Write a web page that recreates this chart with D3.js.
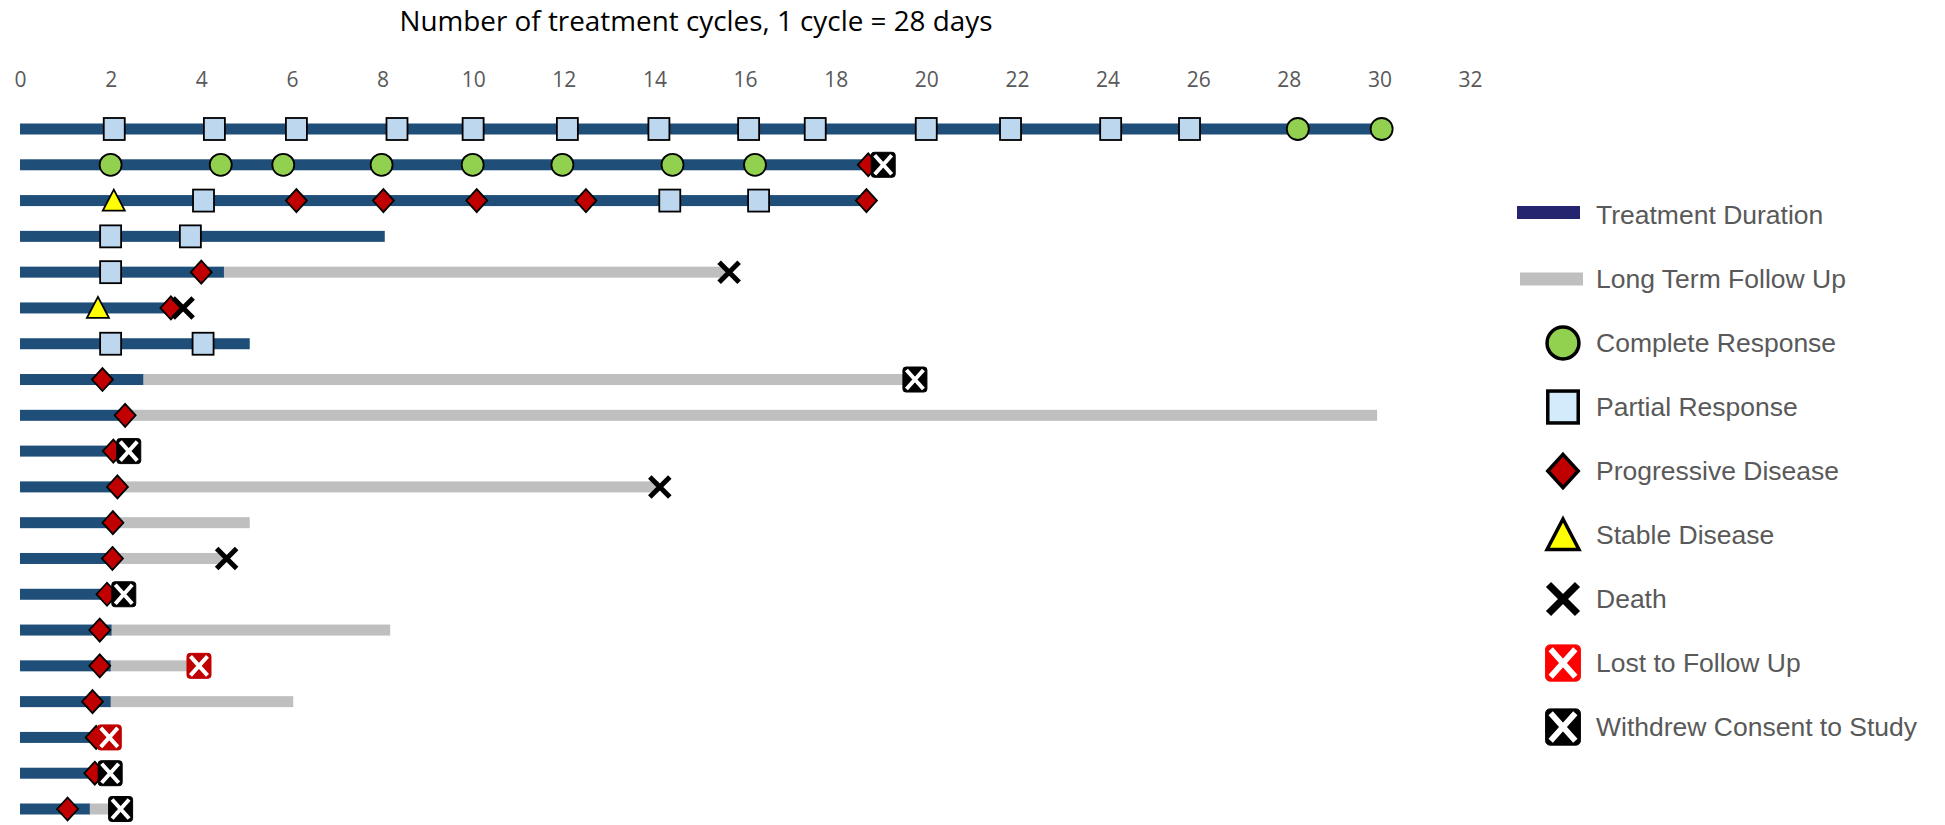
<!DOCTYPE html>
<html>
<head>
<meta charset="utf-8">
<script src="https://cdn.jsdelivr.net/npm/d3@7"></script>
<style>
	body { margin: 0; background: #fff; }
	svg { display: block; }
</style>
</head>
<body>
<div id="swimmer"></div>
<script>
// patients, top to bottom
var patients = [1, 2, 3, 4, 5, 6, 7, 8, 9, 10, 11, 12, 13, 14, 15, 16, 17, 18, 19, 20];

// cycles on treatment / end of long term follow up (null = none)
var treatmentEnd = [30.05, 18.8, 18.6, 8.05, 4.5, 3.4, 5.07, 2.72, 2.3, 2.1, 2.2, 2.1, 2.1, 2.0, 2.02, 2.0, 2.0, 1.75, 1.75, 1.54];
var followUpEnd = [null, null, null, null, 15.6, null, null, 19.75, 29.95, null, 14.1, 5.07, 4.5, null, 8.17, 3.7, 6.03, null, null, 1.95];

// events as [patient, cycle]
var completeResponse = [
	[1, 28.2], [1, 30.05],
	[2, 2.0], [2, 4.43], [2, 5.81], [2, 7.98], [2, 9.99], [2, 11.97], [2, 14.4], [2, 16.22]
];
var partialResponse = [
	[1, 2.08], [1, 4.29], [1, 6.1], [1, 8.32], [1, 10.0], [1, 12.08], [1, 14.1], [1, 16.08], [1, 17.55],
	[1, 20.0], [1, 21.86], [1, 24.07], [1, 25.81],
	[3, 4.05], [3, 14.34], [3, 16.3],
	[4, 2.0], [4, 3.76],
	[5, 2.0],
	[7, 2.0], [7, 4.04]
];
var progressiveDisease = [
	[2, 18.72],
	[3, 6.1], [3, 8.02], [3, 10.08], [3, 12.49], [3, 18.68],
	[5, 4.0], [6, 3.33], [8, 1.82], [9, 2.32], [10, 2.06], [11, 2.15], [12, 2.05], [13, 2.04],
	[14, 1.92], [15, 1.76], [16, 1.76], [17, 1.6], [18, 1.68], [19, 1.65], [20, 1.05]
];
var stableDisease = [[3, 2.07], [6, 1.72]];
var death = [[5, 15.65], [6, 3.6], [11, 14.12], [13, 4.56]];
var lostToFollowUp = [[16, 3.95], [18, 1.97]];
var withdrewConsent = [[2, 19.05], [8, 19.75], [10, 2.4], [14, 2.29], [19, 1.99], [20, 2.22]];

var xTicks = [0, 2, 4, 6, 8, 10, 12, 14, 16, 18, 20, 22, 24, 26, 28, 30, 32];
var legendLabels = ["Treatment Duration", "Long Term Follow Up", "Complete Response", "Partial Response",
	"Progressive Disease", "Stable Disease", "Death", "Lost to Follow Up", "Withdrew Consent to Study"];

var width = 1945, height = 825;
var narrow = "'Liberation Sans Narrow', 'Arial Narrow', 'Open Sans', sans-serif";

var svg = d3.select("#swimmer").append("svg")
	.attr("width", width)
	.attr("height", height);

var x = d3.scaleLinear().domain([0, 32]).range([20, 1470]);
var y = d3.scalePoint().domain(patients).range([129, 809]);

svg.append("text")
	.attr("x", 696)
	.attr("y", 21)
	.attr("dy", "0.35em")
	.attr("text-anchor", "middle")
	.attr("font-family", narrow)
	.attr("font-size", 28)
	.attr("fill", "#000")
	.attr("textLength", 593)
	.attr("lengthAdjust", "spacingAndGlyphs")
	.text("Number of treatment cycles, 1 cycle = 28 days");

var axis = svg.append("g")
	.attr("transform", "translate(0, 80)")
	.call(d3.axisTop(x).tickValues(xTicks).tickSize(0).tickPadding(0));
axis.select(".domain").remove();
axis.selectAll("text")
	.attr("y", 0)
	.attr("dy", "0.35em")
	.attr("font-family", narrow)
	.attr("font-size", 21)
	.attr("fill", "#595959");

var barH = 11;

// follow up first so treatment sits on top
svg.selectAll(".followup").data(patients.filter(function(p, i) { return followUpEnd[i] !== null; })).enter().append("rect")
	.attr("class", "followup")
	.attr("fill", "#BFBFBF")
	.attr("x", function(p) { return x(treatmentEnd[p - 1]) - 1; })
	.attr("y", function(p) { return y(p) - barH / 2; })
	.attr("width", function(p) { return x(followUpEnd[p - 1]) - x(treatmentEnd[p - 1]) + 1; })
	.attr("height", barH);

svg.selectAll(".treatment").data(patients).enter().append("rect")
	.attr("class", "treatment")
	.attr("fill", "#1F4E79")
	.attr("x", x(0))
	.attr("y", function(p) { return y(p) - barH / 2; })
	.attr("width", function(p, i) { return x(treatmentEnd[i]) - x(0); })
	.attr("height", barH);

// k = size factor, s = stroke width
function addMarker(g, type, k, s, color) {
	if (type === "complete") {
		g.append("circle").attr("r", 11 * k)
			.attr("fill", "#92D050").attr("stroke", "#000").attr("stroke-width", s);
	} else if (type === "partial") {
		g.append("rect").attr("x", -10.5 * k).attr("y", -11 * k).attr("width", 21 * k).attr("height", 22 * k)
			.attr("fill", color || "#BDD7EE").attr("stroke", "#000").attr("stroke-width", s);
	} else if (type === "progressive") {
		g.append("path").attr("d", "M0," + (-11.5 * k) + "L" + (10.5 * k) + ",0L0," + (11.5 * k) + "L" + (-10.5 * k) + ",0Z")
			.attr("fill", "#C00000").attr("stroke", "#000").attr("stroke-width", s);
	} else if (type === "stable") {
		g.append("path").attr("d", "M0," + (-11 * k) + "L" + (11 * k) + "," + (10 * k) + "L" + (-11 * k) + "," + (10 * k) + "Z")
			.attr("fill", "#FFFF00").attr("stroke", "#000").attr("stroke-width", s);
	} else if (type === "death") {
		var d = 10 * k;
		g.append("path").attr("d", "M" + (-d) + "," + (-d) + "L" + d + "," + d + "M" + d + "," + (-d) + "L" + (-d) + "," + d)
			.attr("stroke", "#000").attr("stroke-width", 5 * k).attr("fill", "none");
	} else {
		var fill = type === "lost" ? (color || "#C00000") : "#000";
		var w = 12 * k, h = 12.5 * k, c = 8.5 * k, ch = 9.5 * k;
		g.append("rect").attr("x", -w).attr("y", -h).attr("width", 2 * w).attr("height", 2 * h).attr("rx", 3 * k)
			.attr("fill", fill).attr("stroke", fill).attr("stroke-width", 1);
		g.append("path").attr("d", "M" + (-c) + "," + (-ch) + "L" + c + "," + ch + "M" + c + "," + (-ch) + "L" + (-c) + "," + ch)
			.attr("stroke", "#fff").attr("stroke-width", 4 * k).attr("fill", "none");
	}
}

var events = [
	["complete", completeResponse],
	["partial", partialResponse],
	["progressive", progressiveDisease],
	["stable", stableDisease],
	["death", death],
	["lost", lostToFollowUp],
	["withdrew", withdrewConsent]
];

events.forEach(function(ev) {
	svg.selectAll(".m-" + ev[0]).data(ev[1]).enter().append("g")
		.attr("class", "m-" + ev[0])
		.attr("transform", function(d) { return "translate(" + x(d[1]) + "," + y(d[0]) + ")"; })
		.each(function() { addMarker(d3.select(this), ev[0], 1, 1.8); });
});

// legend
var ly = d3.scalePoint().domain(legendLabels).range([215, 727]);
var legend = svg.append("g").attr("class", "legend");
var legendTypes = ["treatment", "followup", "complete", "partial", "progressive", "stable", "death", "lost", "withdrew"];

legendLabels.forEach(function(label, i) {
	var t = legendTypes[i];
	if (t === "treatment" || t === "followup") {
		legend.append("rect")
			.attr("x", t === "treatment" ? 1517 : 1520)
			.attr("y", ly(label) - 6.5 - (t === "treatment" ? 2.5 : 0))
			.attr("width", 63)
			.attr("height", 13)
			.attr("fill", t === "treatment" ? "#25256F" : "#BFBFBF");
	} else {
		var g = legend.append("g").attr("transform", "translate(1563," + ly(label) + ")");
		addMarker(g, t, 1.45, 3.5, t === "lost" ? "#FF0000" : (t === "partial" ? "#D3EBFB" : null));
	}
	legend.append("text")
		.attr("x", 1596)
		.attr("y", ly(label))
		.attr("dy", "0.35em")
		.attr("font-family", "'Liberation Sans', Arial, sans-serif")
		.attr("font-size", 26.5)
		.attr("fill", "#595959")
		.text(label);
});
</script>
</body>
</html>
